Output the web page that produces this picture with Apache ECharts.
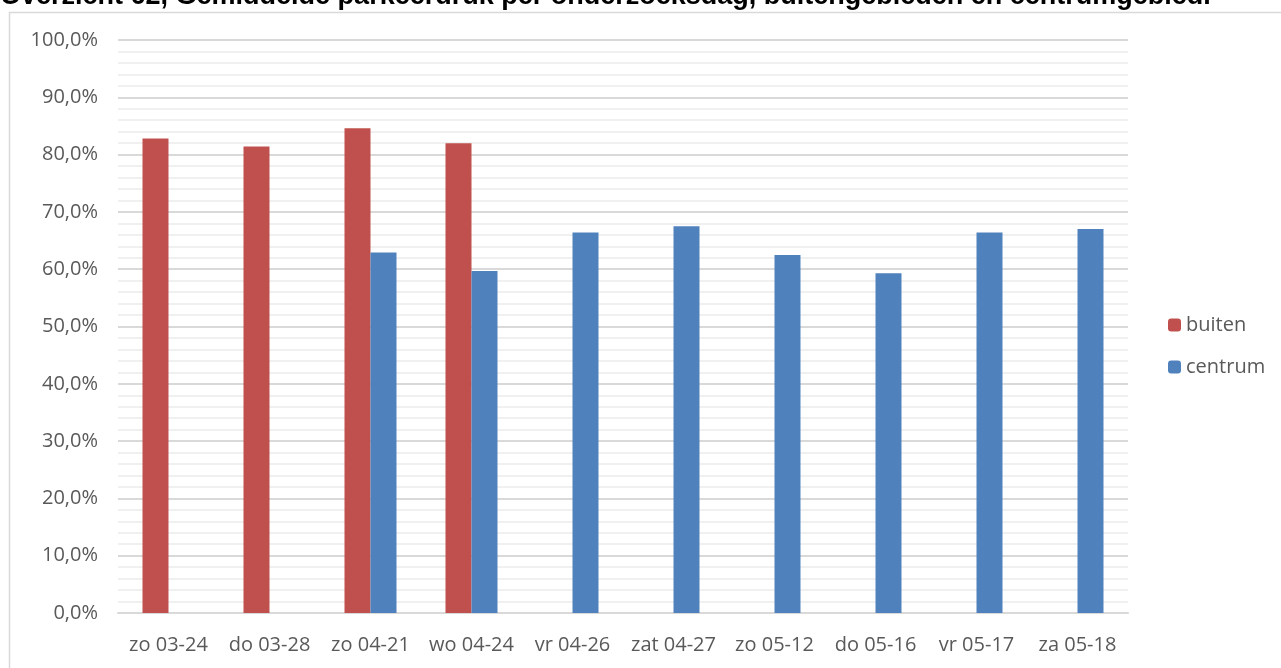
<!DOCTYPE html>
<html><head><meta charset="utf-8">
<script src="https://cdn.jsdelivr.net/npm/echarts@6/dist/echarts.min.js"></script>
<style>html,body{margin:0;padding:0;background:#fff;}#c{width:1281px;height:668px;}</style>
</head><body><div id="c"></div>
<script>
const titleText = "Overzicht 62, Gemiddelde parkeerdruk per onderzoeksdag, buitengebieden en centrumgebied.";
const categories = ["zo 03-24","do 03-28","zo 04-21","wo 04-24","vr 04-26","zat 04-27","zo 05-12","do 05-16","vr 05-17","za 05-18"];
const buiten = [82.8, 81.4, 84.6, 82.0, null, null, null, null, null, null];
const centrum = [null, null, 62.9, 59.7, 66.4, 67.5, 62.5, 59.3, 66.4, 67.0];
const yTicks = [0,10,20,30,40,50,60,70,80,90,100];

const chart = echarts.init(document.getElementById('c'));
const font = '"Open Sans", "Noto Sans", sans-serif';
chart.setOption({
  animation:false,
  graphic:[
    {type:'rect', shape:{x:9.5,y:12.5,width:1300,height:700}, style:{fill:'none', stroke:'#d9d9d9', lineWidth:1.5}, z:-10},
    {type:'text', left:0, top:-17, style:{text:titleText, font:'bold 27px "Liberation Sans", Arial, sans-serif', fill:'#000'}}
  ],
  grid:{left:118, right:153, top:40, bottom:55},
  legend:{orient:'vertical', left:1163, top:310, itemWidth:13, itemHeight:13, itemGap:22,
    textStyle:{fontFamily:font, fontSize:20, color:'#595959'}, data:['buiten','centrum']},
  xAxis:{type:'category', data:categories,
    axisLine:{lineStyle:{color:'#d9d9d9', width:2}}, axisTick:{show:false},
    axisLabel:{color:'#595959', fontFamily:font, fontSize:20, margin:22, interval:0}},
  yAxis:{type:'value', min:yTicks[0], max:yTicks[yTicks.length-1], interval:10,
    axisLine:{show:false}, axisTick:{show:false},
    axisLabel:{color:'#595959', fontFamily:font, fontSize:20, margin:20,
      formatter:v=>v.toFixed(1).replace('.',',')+'%'},
    splitLine:{lineStyle:{color:'#d9d9d9', width:2}},
    minorTick:{show:false, splitNumber:5},
    minorSplitLine:{show:true, lineStyle:{color:'#f0f0f0', width:2}}},
  series:[
    {name:'buiten', type:'bar', data:buiten, barGap:'0%', barCategoryGap:'48.5%', itemStyle:{color:'#C0504D'}},
    {name:'centrum', type:'bar', data:centrum, itemStyle:{color:'#4F81BD'}}
  ]
});
</script></body></html>
